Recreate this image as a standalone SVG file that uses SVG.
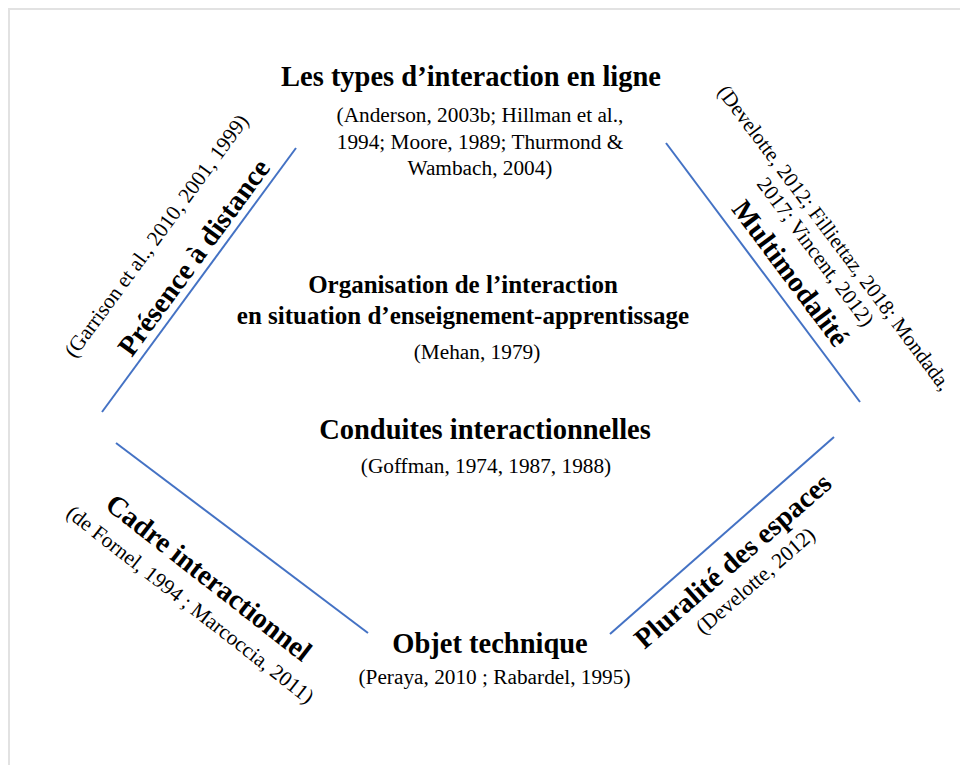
<svg xmlns="http://www.w3.org/2000/svg" width="960" height="765" viewBox="0 0 960 765">
<style>
.b{font-family:"Liberation Serif","Times New Roman",serif;font-weight:bold;fill:#000;text-anchor:middle}
.r{font-family:"Liberation Serif","Times New Roman",serif;fill:#000;text-anchor:middle}
.big{font-size:28.5px}
.mid{font-size:25px}
.cit{font-size:21.3px}
.edge{stroke:#4472C4;stroke-width:2;fill:none}
</style>
<rect width="960" height="765" fill="#fff"/>
<rect x="9" y="9" width="1000" height="800" fill="none" stroke="#e2e2e2" stroke-width="2"/>
<g id="connectors">
<line class="edge" x1="296" y1="148" x2="102" y2="412"/>
<line class="edge" x1="666" y1="143" x2="860" y2="402"/>
<line class="edge" x1="116" y1="443" x2="368" y2="633"/>
<line class="edge" x1="834" y1="437" x2="610" y2="634"/>
</g>
<g id="types">
<text class="b big" x="471" y="86">Les types d’interaction en ligne</text>
<text class="r cit" x="480" y="122">(Anderson, 2003b; Hillman et al.,</text>
<text class="r cit" x="480" y="148.5">1994; Moore, 1989; Thurmond &amp;</text>
<text class="r cit" x="480" y="175">Wambach, 2004)</text>
</g>
<g id="organisation">
<text class="b mid" x="463" y="293">Organisation de l’interaction</text>
<text class="b mid" x="463" y="324">en situation d’enseignement-apprentissage</text>
<text class="r cit" x="477" y="359">(Mehan, 1979)</text>
</g>
<g id="conduites">
<text class="b big" x="485" y="439">Conduites interactionnelles</text>
<text class="r cit" x="486" y="473">(Goffman, 1974, 1987, 1988)</text>
</g>
<g id="objet">
<text class="b big" x="490" y="653">Objet technique</text>
<text class="r cit" x="494.5" y="684">(Peraya, 2010 ; Rabardel, 1995)</text>
</g>
<g id="presence">
<text class="b big" transform="translate(201.5,263) rotate(-53.7)">Présence à distance</text>
<text class="r cit" transform="translate(162,240) rotate(-53.7)">(Garrison et al., 2010, 2001, 1999)</text>
</g>
<g id="multimodalite">
<text class="b big" transform="translate(783,279) rotate(53.2)">Multimodalité</text>
<text class="r" style="font-size:21px" transform="translate(829,242) rotate(53.2)">(Develotte, 2012; Filliettaz, 2018; Mondada,</text>
<text class="r cit" transform="translate(810,256) rotate(53.2)">2017; Vincent, 2012)</text>
</g>
<g id="cadre">
<text class="b big" transform="translate(203,585) rotate(38)">Cadre interactionnel</text>
<text class="r cit" transform="translate(186,610) rotate(38)">(de Fornel, 1994 ; Marcoccia, 2011)</text>
</g>
<g id="pluralite">
<text class="b big" transform="translate(739,568) rotate(-41)">Pluralité des espaces</text>
<text class="r cit" transform="translate(760,586) rotate(-41)">(Develotte, 2012)</text>
</g>
</svg>
